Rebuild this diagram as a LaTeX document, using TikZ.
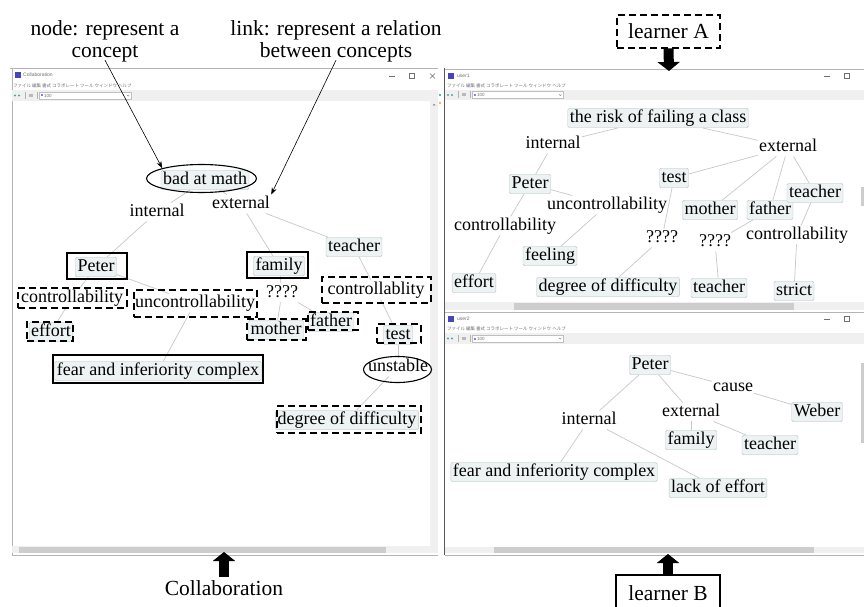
\documentclass[tikz,border=0pt]{standalone}
\usepackage{fontspec}
\setmainfont{Liberation Serif}
\newfontfamily\jpfont{Noto Sans CJK JP}
\newfontfamily\uifont{Liberation Sans}
\usetikzlibrary{arrows.meta,shapes.geometric}
\definecolor{nodefill}{HTML}{EDF2F3}
\definecolor{nodeline}{HTML}{B9C3C5}
\definecolor{linkcol}{HTML}{C8C8C8}
\definecolor{barcol}{HTML}{F0F0F0}
\definecolor{thumbcol}{HTML}{CDCDCD}
\definecolor{framecol}{HTML}{B4B4B4}
\definecolor{uitext}{HTML}{707070}
\newcommand\cmfont{\fontsize{18}{20}\selectfont}
\newcommand\annfont{\fontsize{21.5}{21.5}\selectfont}
\newcommand\menufont{\jpfont\fontsize{4.5}{5}\selectfont}
\newcommand\titlefont{\uifont\fontsize{5}{6}\selectfont}
\begin{document}
\begin{tikzpicture}[x=1pt,y=-1pt,
 concept/.style={draw=nodeline, fill=nodefill, rounded corners=1.5pt, font=\cmfont, inner xsep=2pt, inner ysep=1.5pt, text height=12.5pt, text depth=4pt},
 lbl/.style={font=\cmfont, inner sep=1pt, text height=12.5pt, text depth=4pt},
 link/.style={draw=linkcol, line width=0.7pt},
 hlsolid/.style={draw=black, line width=2.9pt, inner sep=0pt},
 hldash/.style={draw=black, line width=2.7pt, dash pattern=on 7pt off 4pt, inner sep=0pt},
 hlell/.style={ellipse, draw=black, line width=1.1pt, inner sep=0pt},
 ann/.style={font=\annfont, align=center, inner sep=0pt},
 annarrow/.style={draw=black, line width=0.6pt, -{Stealth[length=7pt,width=5pt]}},
 bigarrow/.style={draw=black, line width=10pt, -{Triangle[length=9pt,width=22pt]}},
 uitxt/.style={font=\titlefont, text=uitext, inner sep=0pt, anchor=west},
 menutxt/.style={font=\menufont, text=uitext, inner sep=0pt, anchor=west},
]
\useasboundingbox (0,0) rectangle (864,607);
\fill[white] (0,0) rectangle (864,607);

% ---------------- window chrome: left (Collaboration) ----------------
\draw[framecol, line width=0.5pt] (10,68) -- (438,68);
\draw[framecol, line width=0.8pt] (12,68) -- (12,555);
\fill[blue!45!gray] (15,72) rectangle (21,78);
\node[uitxt] at (23,75) {Collaboration};
\draw[uitext, line width=0.5pt] (389,76.5) -- (395,76.5);
\draw[uitext, line width=0.5pt] (409,73.5) rectangle (414,78.5);
\draw[uitext, line width=0.5pt] (430,73.5) -- (435,78.5) (430,78.5) -- (435,73.5);
\node[menutxt] at (13,86) {ファイル\ 編集\ 書式\ コラボレート\ ツール\ ウィンドウ\ ヘルプ};
\fill[barcol] (12,90) rectangle (438,101);
\fill[teal!70] (15,95.5) circle (1.1);
\fill[teal!70] (19,95.5) circle (1.1);
\draw[gray!60] (25,92) -- (25,99);
\fill[gray!55] (29,94) rectangle (33,97);
\draw[gray!60] (37,92) -- (37,99);
\draw[gray!50, fill=white] (39,92) rectangle (131,99);
\node[uitxt, font=\uifont\fontsize{4.5}{5}\selectfont] at (44,95.5) {100};
\fill[blue!50] (41,94.5) rectangle (43,96.5);
\draw[uitext, line width=0.3pt] (127,94.8) -- (128.2,96.2) -- (129.4,94.8);
\fill[barcol] (430,101) rectangle (438,546);
\fill[uitext] (432.5,105.5) -- (434,104) -- (435.5,105.5) -- cycle;
\fill[teal!60] (438.5,94) rectangle (440.5,96);
\fill[orange!60] (438.5,102) rectangle (440.5,104);
\fill[barcol] (12,546) rectangle (438,553);
\fill[thumbcol] (19,546.5) rectangle (386,552.5);
\draw[framecol, line width=0.5pt] (12,555) -- (438,555);
\draw[gray!70!black, line width=1pt] (444,68) -- (444,555);

% ---------------- window chrome: right top (user1) ----------------
\draw[framecol, line width=0.5pt] (445,69) -- (864,69);
\fill[blue!45!gray] (448,73) rectangle (454,79);
\node[uitxt] at (457,76) {user1};
\draw[uitext, line width=0.5pt] (824,76.5) -- (830,76.5);
\draw[uitext, line width=0.5pt] (844,73.5) rectangle (849,78.5);
\node[menutxt] at (447,86) {ファイル\ 編集\ 書式\ コラボレート\ ツール\ ウィンドウ\ ヘルプ};
\fill[barcol] (445,90) rectangle (864,100);
\fill[teal!70] (448,95) circle (1.1);
\fill[teal!70] (452,95) circle (1.1);
\draw[gray!60] (458,91.5) -- (458,98.5);
\fill[gray!55] (462,93.5) rectangle (466,96.5);
\draw[gray!60] (470,91.5) -- (470,98.5);
\draw[gray!50, fill=white] (472,91.5) rectangle (563,98.5);
\fill[blue!50] (474,94) rectangle (476,96);
\node[uitxt, font=\uifont\fontsize{4.5}{5}\selectfont] at (477,95) {100};
\draw[uitext, line width=0.3pt] (559,94.3) -- (560.2,95.7) -- (561.4,94.3);
\fill[thumbcol] (861,187) rectangle (864,206);
\fill[barcol] (445,302) rectangle (864,310);
\fill[thumbcol] (514,302.5) rectangle (794,309.5);
\draw[framecol, line width=0.8pt] (445,312) -- (864,312);

% ---------------- window chrome: right bottom (user2) ----------------
\fill[blue!45!gray] (448,316) rectangle (454,322);
\node[uitxt] at (457,319) {user2};
\draw[uitext, line width=0.5pt] (824,319.5) -- (830,319.5);
\draw[uitext, line width=0.5pt] (844,316.5) rectangle (849,321.5);
\node[menutxt] at (447,329) {ファイル\ 編集\ 書式\ コラボレート\ ツール\ ウィンドウ\ ヘルプ};
\fill[barcol] (445,333) rectangle (864,344);
\fill[teal!70] (448,338.5) circle (1.1);
\fill[teal!70] (452,338.5) circle (1.1);
\draw[gray!60] (458,335) -- (458,342);
\fill[gray!55] (462,337) rectangle (466,340);
\draw[gray!60] (470,335) -- (470,342);
\draw[gray!50, fill=white] (472,335) rectangle (563,342);
\fill[blue!50] (474,337.5) rectangle (476,339.5);
\node[uitxt, font=\uifont\fontsize{4.5}{5}\selectfont] at (477,338.5) {100};
\draw[uitext, line width=0.3pt] (559,337.8) -- (560.2,339.2) -- (561.4,337.8);
\fill[thumbcol] (861,363) rectangle (864,443);
\fill[barcol] (445,547) rectangle (864,553);
\fill[thumbcol] (494,547.3) rectangle (814,552.7);
\draw[framecol, line width=0.5pt] (445,555) -- (864,555);

% ---------------- left concept map ----------------
\node[concept] (bad) at (205,180) {bad at math};
\node[lbl] (lint) at (157,212) {internal};
\node[lbl] (lext) at (241,204) {external};
\node[concept] (peter) at (96,267) {Peter};
\node[concept] (family) at (279,266) {family};
\node[concept] (teacher) at (354,247) {teacher};
\node[lbl] (lctrl) at (72,298) {controllability};
\node[lbl] (lunc) at (195,303) {uncontrollability};
\node[lbl] (lq) at (282,293) {????};
\node[concept] (effort) at (51,332) {effort};
\node[concept] (mother) at (276,330) {mother};
\node[concept] (father) at (331,322) {father};
\node[lbl] (lctrl2) at (376,290) {controllablity};
\node[concept] (test) at (398,335) {test};
\node[lbl] (unst) at (398,367) {unstable};
\node[concept] (deg) at (347,420) {degree of difficulty};
\node[concept] (fear) at (158,371) {fear and inferiority complex};

\draw[link] (bad) -- (lint);
\draw[link] (lint) -- (peter);
\draw[link] (bad) -- (lext);
\draw[link] (lext) -- (family);
\draw[link] (lext) -- (teacher);
\draw[link] (peter) -- (lctrl);
\draw[link] (lctrl) -- (effort);
\draw[link] (peter) -- (lunc);
\draw[link] (lunc) -- (fear);
\draw[link] (family) -- (lq);
\draw[link] (lq) -- (mother);
\draw[link] (lq) -- (father);
\draw[link] (teacher) -- (lctrl2);
\draw[link] (lctrl2) -- (test);
\draw[link] (test) -- (unst);
\draw[link] (unst) -- (deg);

\node[hlell, minimum width=110pt, minimum height=28pt] (hbad) at (201.5,178.5) {};
\node[hlsolid, minimum width=60pt, minimum height=26pt] (hpeter) at (97,266) {};
\node[hlsolid, minimum width=61pt, minimum height=26pt] (hfamily) at (277.5,265) {};
\node[hldash, minimum width=109pt, minimum height=20pt] (hctrl) at (72.5,298) {};
\node[hldash, minimum width=123pt, minimum height=27pt] (hunc) at (195.5,303.5) {};
\node[hldash, minimum width=46pt, minimum height=19pt] (heffort) at (50,331.5) {};
\node[hldash, minimum width=59pt, minimum height=21pt] (hmother) at (276.5,329.5) {};
\node[hldash, minimum width=50pt, minimum height=18pt] (hfather) at (333,321) {};
\node[hldash, minimum width=109pt, minimum height=26pt] (hctrl2) at (376.5,290) {};
\node[hldash, minimum width=44pt, minimum height=19pt] (htest) at (399,333.5) {};
\node[hlell, minimum width=68pt, minimum height=26pt] (hunst) at (397.5,369.5) {};
\node[hldash, minimum width=144pt, minimum height=27pt] (hdeg) at (349,419.5) {};
\node[hlsolid, minimum width=210pt, minimum height=28pt] (hfear) at (158,369) {};

% ---------------- right top concept map (learner A) ----------------
\node[concept] (risk) at (658,118) {the risk of failing a class};
\node[lbl] (aint) at (553,144) {internal};
\node[lbl] (aext) at (788,147) {external};
\node[concept] (apeter) at (530,184) {Peter};
\node[lbl] (aunc) at (607,205) {uncontrollability};
\node[lbl] (actrl) at (505,226) {controllability};
\node[concept] (afeel) at (550,256) {feeling};
\node[concept] (aeff) at (474,283) {effort};
\node[concept] (atest) at (674,178) {test};
\node[lbl] (aq1) at (662,238) {????};
\node[concept] (adeg) at (608,287) {degree of difficulty};
\node[concept] (amother) at (710,210) {mother};
\node[concept] (afather) at (770,210) {father};
\node[concept] (ateacher) at (815,193) {teacher};
\node[lbl] (aq2) at (715,242) {????};
\node[lbl] (actrl2) at (797,235) {controllability};
\node[concept] (ateach2) at (719,288) {teacher};
\node[concept] (astrict) at (794,291) {strict};

\draw[link] (risk) -- (aint);
\draw[link] (risk) -- (aext);
\draw[link] (aint) -- (apeter);
\draw[link] (apeter) -- (aunc);
\draw[link] (apeter) -- (actrl);
\draw[link] (actrl) -- (aeff);
\draw[link] (aunc) -- (afeel);
\draw[link] (aext) -- (atest);
\draw[link] (aext) -- (amother);
\draw[link] (aext) -- (afather);
\draw[link] (aext) -- (ateacher);
\draw[link] (atest) -- (aq1);
\draw[link] (aq1) -- (adeg);
\draw[link] (afather) -- (aq2);
\draw[link] (aq2) -- (ateach2);
\draw[link] (ateacher) -- (actrl2);
\draw[link] (actrl2) -- (astrict);

% ---------------- right bottom concept map (learner B) ----------------
\node[concept] (bpeter) at (650,365) {Peter};
\node[lbl] (bcause) at (733,387) {cause};
\node[concept] (bweber) at (817,412) {Weber};
\node[lbl] (bext) at (691,412) {external};
\node[lbl] (bint) at (589,420) {internal};
\node[concept] (bfam) at (691,440) {family};
\node[concept] (bteach) at (770,445) {teacher};
\node[concept] (bfear) at (554,472) {fear and inferiority complex};
\node[concept] (black) at (718,488) {lack of effort};

\draw[link] (bpeter) -- (bint);
\draw[link] (bpeter) -- (bext);
\draw[link] (bpeter) -- (bcause);
\draw[link] (bcause) -- (bweber);
\draw[link] (bext) -- (bfam);
\draw[link] (bext) -- (bteach);
\draw[link] (bint) -- (bfear);
\draw[link] (bint) -- (black);

% ---------------- annotations ----------------
\node[ann] (annnode) at (105,41.5) {node: represent a\\concept};
\node[ann] (annlink) at (336,41.5) {link: represent a relation\\between concepts};
\draw[annarrow] ([yshift=2pt]annnode.south) -- (hbad.north west);
\draw[annarrow] ([yshift=2pt]annlink.south) -- (lext.north east);

\node[hldash, font=\annfont, minimum width=103pt, minimum height=33pt] (learnA) at (668.5,31.5) {learner A};
\coordinate (aTip) at (669,71);
\draw[bigarrow] ([yshift=1pt]learnA.south) -- (aTip);

\node[ann] (collab) at (224,588) {Collaboration};
\coordinate (cTip) at (224,552);
\draw[bigarrow, shorten <=3pt] (collab.north) -- (cTip);

\node[draw=black, line width=1.3pt, font=\annfont, minimum width=104pt, minimum height=36pt, inner sep=0pt] (learnB) at (668,593) {learner B};
\coordinate (bTip) at (668,554);
\draw[bigarrow] ([yshift=-1pt]learnB.north) -- (bTip);
\end{tikzpicture}
\end{document}
